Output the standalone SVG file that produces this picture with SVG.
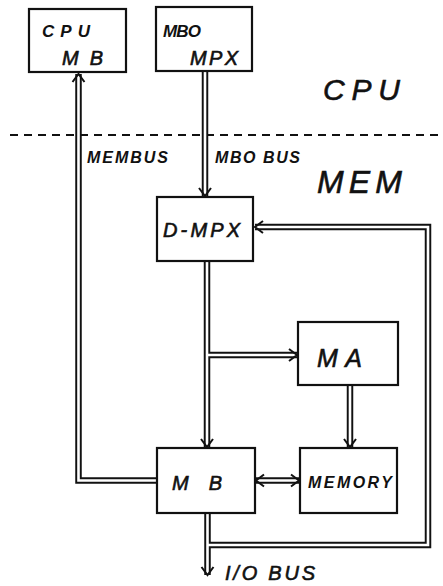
<svg xmlns="http://www.w3.org/2000/svg" width="443" height="586" viewBox="0 0 443 586">
<style>
.box{fill:#fff;stroke:#111;stroke-width:2.2}
.t{font-family:"Liberation Sans",Arial,sans-serif;font-style:italic;fill:#111}
.b{font-weight:bold}
.h{stroke:#111;stroke-width:0.6}
.outer{fill:none;stroke:#111;stroke-width:6.5;stroke-linejoin:miter}
.inner{fill:none;stroke:#fff;stroke-width:2.6;stroke-linejoin:miter}
.dash{stroke:#111;stroke-width:1.8;stroke-dasharray:8 6}
</style>
<defs>
<marker id="arr" markerUnits="userSpaceOnUse" markerWidth="20" markerHeight="20" viewBox="-10 -10 20 20" refX="0" refY="0" orient="auto-start-reverse">
<path d="M-8,-6 L0,0 L-8,6" fill="none" stroke="#111" stroke-width="2"/>
</marker>
</defs>
<rect width="443" height="586" fill="#fff"/>
<line class="dash" x1="10" y1="135" x2="443" y2="135"/>
<text class="t h" x="323" y="100" font-size="30" textLength="77" lengthAdjust="spacing">CPU</text>
<text class="t h" x="317" y="193" font-size="32" textLength="85" lengthAdjust="spacing">MEM</text>
<text class="t b" x="87" y="163" font-size="16" textLength="81" lengthAdjust="spacing">MEMBUS</text>
<text class="t b" x="215" y="163" font-size="16" textLength="85" lengthAdjust="spacing">MBO BUS</text>
<text class="t h" x="225" y="580" font-size="20" textLength="90" lengthAdjust="spacing">I/O BUS</text>
<g id="connectors">
<path class="outer" d="M157,480.5 H78.5 V74"/>
<path class="outer" d="M205,71 V196"/>
<path class="outer" d="M207,261 V447"/>
<path class="outer" d="M207,355 H297"/>
<path class="outer" d="M350,385 V447"/>
<path class="outer" d="M256,480.5 H299"/>
<path class="outer" d="M207.5,513 V575"/>
<path class="outer" d="M207.5,545 H428 V227 H255"/>
<path class="inner" d="M157,480.5 H78.5 V74" marker-end="url(#arr)"/>
<path class="inner" d="M205,71 V196" marker-end="url(#arr)"/>
<path class="inner" d="M207,261 V447" marker-end="url(#arr)"/>
<path class="inner" d="M207,355 H297" marker-end="url(#arr)"/>
<path class="inner" d="M350,385 V447" marker-end="url(#arr)"/>
<path class="inner" d="M256,480.5 H299" marker-start="url(#arr)" marker-end="url(#arr)"/>
<path class="inner" d="M207.5,513 V575" marker-end="url(#arr)"/>
<path class="inner" d="M207.5,545 H428 V227 H255" marker-end="url(#arr)"/>
</g>
<g id="cpu-mb">
<rect class="box" x="29" y="9" width="97" height="63"/>
<text class="t b" x="42" y="37" font-size="17" textLength="48" lengthAdjust="spacing">CPU</text>
<text class="t h" x="62" y="65" font-size="20" textLength="41" lengthAdjust="spacing">MB</text>
</g>
<g id="mbo-mpx">
<rect class="box" x="156" y="7" width="96" height="64"/>
<text class="t b" x="163" y="37" font-size="17" textLength="38" lengthAdjust="spacing">MBO</text>
<text class="t h" x="190" y="65" font-size="20" textLength="48" lengthAdjust="spacing">MPX</text>
</g>
<g id="d-mpx">
<rect class="box" x="157" y="197" width="96" height="64"/>
<text class="t h" x="163" y="237" font-size="20" textLength="77" lengthAdjust="spacing">D-MPX</text>
</g>
<g id="ma">
<rect class="box" x="298" y="322" width="100" height="63"/>
<text class="t h" x="317" y="367" font-size="25" textLength="45" lengthAdjust="spacing">MA</text>
</g>
<g id="mb">
<rect class="box" x="157" y="448" width="98" height="65"/>
<text class="t h" x="172" y="490" font-size="20" textLength="50" lengthAdjust="spacing">MB</text>
</g>
<g id="memory">
<rect class="box" x="300" y="448" width="97" height="65"/>
<text class="t b" x="308" y="488" font-size="16" textLength="84" lengthAdjust="spacing">MEMORY</text>
</g>
</svg>
